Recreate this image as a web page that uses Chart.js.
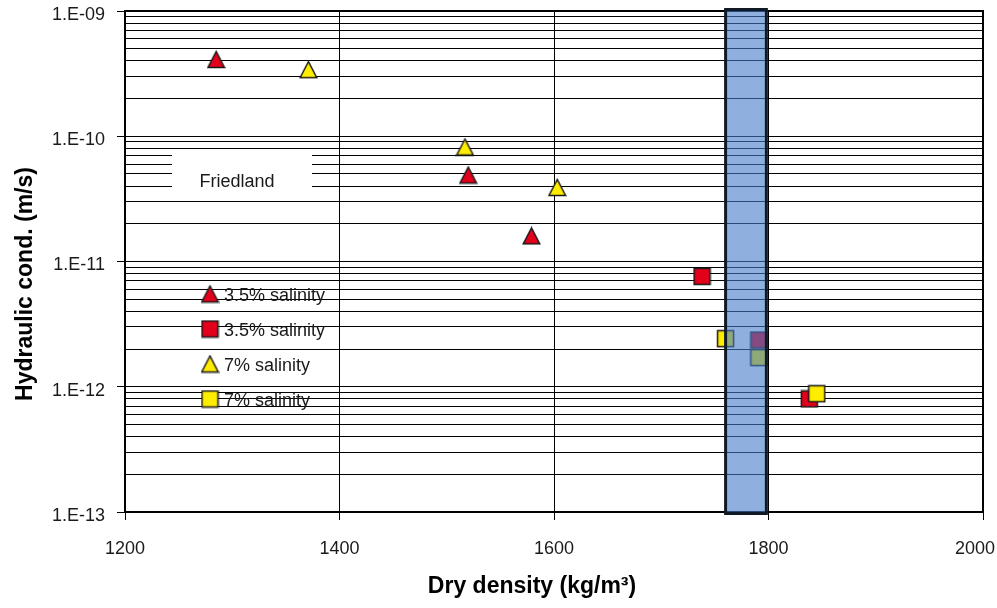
<!DOCTYPE html>
<html>
<head>
<meta charset="utf-8">
<script src="https://cdn.jsdelivr.net/npm/chart.js@4.4.1/dist/chart.umd.min.js"></script>
<style>
  html, body { margin: 0; padding: 0; background: #fff; }
  #wrap { width: 997px; height: 608px; position: relative; }
</style>
</head>
<body>
<div id="wrap"><canvas id="c" width="997" height="608"></canvas></div>
<script>
// Hydraulic conductivity versus dry density, Friedland clay
const redTriDensity    = [1285, 1520, 1579];
const redTriK          = [4.1e-10, 4.9e-11, 1.6e-11];
const redSqDensity     = [1738, 1791, 1838];
const redSqK           = [7.6e-12, 2.36e-12, 8.0e-13];
const yellowTriDensity = [1371, 1517, 1603];
const yellowTriK       = [3.4e-10, 8.2e-11, 3.9e-11];
const yellowSqDensity  = [1760, 1791, 1845];
const yellowSqK        = [2.42e-12, 1.71e-12, 8.8e-13];

const seriesLabels   = ['3.5% salinity', '3.5% salinity', '7% salinity', '7% salinity'];
const bandDensity    = [1760, 1798];
const xTicks         = [1200, 1400, 1600, 1800, 2000];
const decadeExps     = [-13, -12, -11, -10, -9];
const yTickLabels    = ['1.E-13', '1.E-12', '1.E-11', '1.E-10', '1.E-09'];
const materialLabel  = 'Friedland';
const xTitle         = 'Dry density (kg/m\u00B3)';
const yTitle         = 'Hydraulic cond. (m/s)';

const FONT = '"Liberation Sans", Arial, Helvetica, sans-serif';
const TEXT = '#1a1a1a';
const RED = '#e3001b';
const YELLOW = '#ffed00';

function markerImage(shape, fill) {
  const c = document.createElement('canvas');
  c.width = 19; c.height = 19;
  const g = c.getContext('2d');
  g.fillStyle = fill;
  g.strokeStyle = '#1a1a1a';
  g.lineWidth = 1.5;
  g.beginPath();
  if (shape === 'tri') {
    g.moveTo(9.5, 1.5); g.lineTo(1.2, 17.5); g.lineTo(17.8, 17.5); g.closePath();
  } else {
    g.rect(1.5, 1.5, 16, 16);
  }
  g.fill(); g.stroke();
  return c;
}
const triRed = markerImage('tri', RED);
const sqRed = markerImage('sq', RED);
const triYellow = markerImage('tri', YELLOW);
const sqYellow = markerImage('sq', YELLOW);
const legendMarkers = [triRed, sqRed, triYellow, sqYellow];

const zip = (xs, ys) => xs.map((x, i) => ({ x: x, y: ys[i] }));

function ds(label, xs, ys, img, order) {
  return { label: label, data: zip(xs, ys), pointStyle: img, pointRadius: 9,
           pointHoverRadius: 9, showLine: false, order: order };
}

const overlay = {
  id: 'overlay',
  beforeDatasetsDraw(chart) {
    const { ctx, chartArea: a } = chart;
    // white box behind the material name
    ctx.save();
    ctx.fillStyle = '#fff';
    ctx.fillRect(a.left + 47, 151, 140, 45);
    ctx.fillStyle = TEXT;
    ctx.font = '18px ' + FONT;
    ctx.textAlign = 'center';
    ctx.textBaseline = 'middle';
    ctx.fillText(materialLabel, a.left + 112, 182);
    ctx.restore();
  },
  afterDatasetsDraw(chart) {
    const { ctx, chartArea: a, scales } = chart;
    ctx.save();
    // plot frame
    ctx.strokeStyle = '#000';
    ctx.lineWidth = 2;
    ctx.strokeRect(a.left, a.top, a.right - a.left, a.bottom - a.top);

    // density band
    const x0 = scales.x.getPixelForValue(bandDensity[0]);
    const x1 = scales.x.getPixelForValue(bandDensity[1]);
    ctx.fillStyle = 'rgba(68,123,200,0.6)';
    ctx.fillRect(x0, a.top - 1.5, x1 - x0, a.bottom - a.top + 3);
    ctx.strokeStyle = '#101a26';
    ctx.lineWidth = 3;
    ctx.strokeRect(x0, a.top - 1.5, x1 - x0, a.bottom - a.top + 3);

    // legend inside the plot
    ctx.font = '18px ' + FONT;
    ctx.fillStyle = TEXT;
    ctx.textAlign = 'left';
    ctx.textBaseline = 'middle';
    for (let i = 0; i < seriesLabels.length; i++) {
      const cy = 294 + i * 35;
      const img = legendMarkers[i];
      ctx.drawImage(img, a.left + 85 - img.width / 2, cy - img.height / 2);
      ctx.fillText(seriesLabels[i], a.left + 99, cy + 2.5);
    }

    // x tick labels, kept inside the canvas
    ctx.textAlign = 'center';
    const W = chart.width;
    for (const v of xTicks) {
      const t = String(v);
      const w = ctx.measureText(t).width;
      let px = scales.x.getPixelForValue(v);
      px = Math.min(px, W - w / 2 - 2);
      ctx.fillText(t, px, 549);
    }

    // axis titles
    ctx.font = 'bold 23px ' + FONT;
    ctx.fillStyle = '#000';
    ctx.fillText(xTitle, 532, 587);
    ctx.translate(26, 284);
    ctx.rotate(-Math.PI / 2);
    ctx.fillText(yTitle, 0, 0);
    ctx.restore();
  }
};

new Chart(document.getElementById('c'), {
  type: 'scatter',
  data: {
    datasets: [
      ds(seriesLabels[0], redTriDensity, redTriK, triRed, 3),
      ds(seriesLabels[1], redSqDensity, redSqK, sqRed, 2),
      ds(seriesLabels[2], yellowTriDensity, yellowTriK, triYellow, 1),
      ds(seriesLabels[3], yellowSqDensity, yellowSqK, sqYellow, 0)
    ]
  },
  options: {
    responsive: false,
    animation: false,
    devicePixelRatio: 1,
    layout: { padding: { top: 11, right: 14, left: 0, bottom: 0 } },
    plugins: { legend: { display: false }, tooltip: { enabled: false } },
    scales: {
      x: {
        type: 'linear',
        min: xTicks[0],
        max: xTicks[xTicks.length - 1],
        afterBuildTicks: s => { s.ticks = xTicks.map(v => ({ value: v })); },
        ticks: { display: false },
        grid: { color: '#000', lineWidth: 1, tickLength: 8, tickColor: '#000' },
        border: { display: true, color: '#000', width: 2 },
        afterFit: s => { s.height = 96; s.paddingLeft = 0; s.paddingRight = 0; }
      },
      y: {
        type: 'logarithmic',
        min: Math.pow(10, decadeExps[0]),
        max: Math.pow(10, decadeExps[decadeExps.length - 1]),
        afterBuildTicks: s => {
          const t = [];
          decadeExps.forEach((e, d) => {
            const top = d === decadeExps.length - 1 ? 1 : 9;
            for (let m = 1; m <= top; m++) t.push({ value: m * Math.pow(10, e), major: m === 1 });
          });
          s.ticks = t;
        },
        ticks: {
          autoSkip: false,
          color: TEXT,
          font: { family: FONT, size: 18 },
          padding: 12,
          labelOffset: 4,
          callback: (v, i, ticks) => {
            if (!ticks[i].major) return '';
            const e = Math.round(Math.log10(v));
            return yTickLabels[decadeExps.indexOf(e)];
          }
        },
        grid: {
          color: '#000', lineWidth: 1, tickLength: 8,
          tickColor: c => (c.tick && c.tick.major) ? '#000' : 'rgba(0,0,0,0)'
        },
        border: { display: true, color: '#000', width: 2 },
        afterFit: s => { s.width = 125; s.paddingTop = 0; s.paddingBottom = 0; }
      }
    }
  },
  plugins: [overlay]
});
</script>
</body>
</html>
